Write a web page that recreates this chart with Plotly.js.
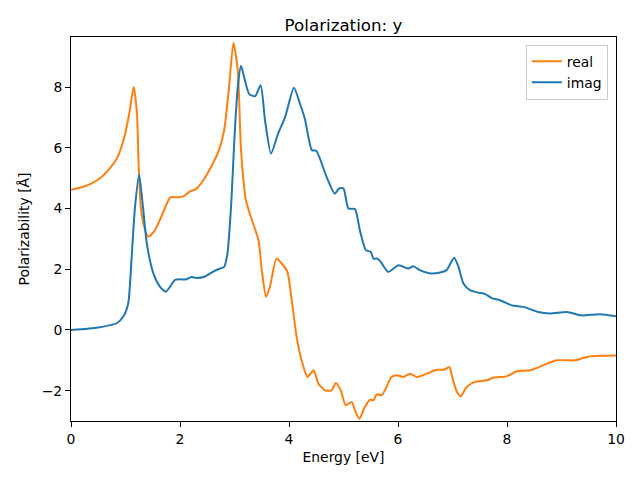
<!DOCTYPE html>
<html>
<head>
<script src="https://cdn.plot.ly/plotly-3.0.1.min.js"></script>
<style>body{margin:0;padding:0;background:#fff}</style>
</head>
<body>
<div id="chart" style="width:640px;height:480px"></div>
<script>
const realEnergy = [0, 0.18, 0.37, 0.55, 0.73, 0.86, 0.98, 1.07, 1.15, 1.21, 1.24, 1.28, 1.35, 1.42, 1.53, 1.63, 1.72, 1.82, 1.96, 2.06, 2.18, 2.29, 2.45, 2.69, 2.81, 2.90, 2.98, 3.06, 3.12, 3.21, 3.30, 3.44, 3.50, 3.58, 3.65, 3.77, 3.87, 3.97, 4.05, 4.14, 4.23, 4.34, 4.45, 4.54, 4.66, 4.78, 4.86, 4.95, 5.04, 5.15, 5.21, 5.29, 5.39, 5.49, 5.55, 5.61, 5.70, 5.76, 5.88, 5.98, 6.10, 6.22, 6.35, 6.53, 6.71, 6.85, 6.94, 7.01, 7.08, 7.15, 7.26, 7.41, 7.63, 7.75, 7.99, 8.18, 8.42, 8.67, 8.91, 9.25, 9.46, 9.71, 10];
const realValues = [4.62, 4.69, 4.82, 5.02, 5.36, 5.71, 6.37, 7.14, 8.0, 7.14, 5.49, 4.06, 3.35, 3.07, 3.26, 3.62, 4.0, 4.37, 4.37, 4.40, 4.56, 4.64, 4.99, 5.81, 6.58, 8.0, 9.46, 8.56, 5.92, 4.27, 3.72, 2.96, 1.97, 1.09, 1.42, 2.35, 2.18, 1.91, 0.98, -0.23, -1.0, -1.55, -1.33, -1.77, -1.99, -1.99, -1.75, -1.99, -2.48, -2.37, -2.65, -2.93, -2.54, -2.30, -2.32, -2.12, -2.15, -1.99, -1.55, -1.49, -1.55, -1.44, -1.55, -1.44, -1.31, -1.31, -1.22, -1.66, -2.04, -2.19, -1.88, -1.71, -1.66, -1.57, -1.53, -1.36, -1.33, -1.16, -1.0, -1.0, -0.89, -0.85, -0.84];

const imagEnergy = [0, 0.3, 0.53, 0.84, 0.96, 1.05, 1.11, 1.17, 1.25, 1.32, 1.39, 1.51, 1.63, 1.74, 1.82, 1.91, 2.12, 2.21, 2.30, 2.45, 2.57, 2.69, 2.81, 2.87, 2.94, 3.0, 3.06, 3.12, 3.19, 3.27, 3.38, 3.48, 3.56, 3.67, 3.80, 3.93, 4.09, 4.20, 4.29, 4.42, 4.50, 4.69, 4.84, 4.92, 5.0, 5.09, 5.21, 5.30, 5.41, 5.50, 5.55, 5.62, 5.68, 5.82, 6.01, 6.19, 6.28, 6.40, 6.59, 6.77, 6.89, 7.03, 7.11, 7.20, 7.32, 7.47, 7.60, 7.72, 7.87, 8.09, 8.30, 8.57, 8.79, 9.10, 9.37, 9.71, 10];
const imagValues = [0.0, 0.04, 0.09, 0.22, 0.44, 0.88, 2.31, 3.95, 5.11, 4.06, 2.86, 1.87, 1.43, 1.26, 1.43, 1.65, 1.67, 1.74, 1.71, 1.75, 1.88, 1.99, 2.08, 2.51, 4.16, 6.36, 8.0, 8.70, 8.23, 7.77, 7.70, 8.06, 6.91, 5.81, 6.47, 7.02, 7.98, 7.46, 6.96, 5.92, 5.90, 5.04, 4.49, 4.66, 4.66, 4.0, 3.98, 3.28, 2.63, 2.57, 2.35, 2.35, 2.25, 1.91, 2.13, 2.02, 2.10, 1.97, 1.86, 1.89, 1.97, 2.38, 2.08, 1.53, 1.31, 1.23, 1.18, 1.05, 0.98, 0.81, 0.76, 0.59, 0.54, 0.59, 0.48, 0.52, 0.45];

const xTicks = [0, 2, 4, 6, 8, 10];
const yTicks = [-2, 0, 2, 4, 6, 8];

const font = {family: 'DejaVu Sans', size: 13.9, color: '#000'};

const traces = [
  {x: realEnergy, y: realValues, name: 'real', mode: 'lines',
   line: {color: '#ff7f0e', width: 2, shape: 'spline', smoothing: 0.6}},
  {x: imagEnergy, y: imagValues, name: 'imag', mode: 'lines',
   line: {color: '#1f77b4', width: 2, shape: 'spline', smoothing: 0.6}}
];

const axisCommon = {
  showline: true, mirror: true, linecolor: '#000', linewidth: 1,
  ticks: 'outside', ticklen: 5, tickwidth: 1, tickcolor: '#000',
  showgrid: false, zeroline: false, tickfont: {family: 'DejaVu Sans', size: 13.9, color: '#000'}
};

const layout = {
  width: 640, height: 480,
  margin: {l: 71, r: 24, t: 37, b: 59},
  paper_bgcolor: '#fff', plot_bgcolor: '#fff',
  font: font,
  title: {text: 'Polarization: y', font: {family: 'DejaVu Sans', size: 16.7, color: '#000'}, x: 0.5, xref: 'paper', y: 1, yref: 'paper', yanchor: 'bottom', pad: {b: 6}},
  xaxis: Object.assign({}, axisCommon, {range: [0, 10], tickvals: xTicks, ticktext: xTicks.map(String),
    title: {text: 'Energy [eV]', font: font, standoff: 6}}),
  yaxis: Object.assign({}, axisCommon, {range: [-3.0, 9.65], tickvals: yTicks, ticktext: yTicks.map(v => v < 0 ? '\u2212' + Math.abs(v) : String(v)),
    title: {text: 'Polarizability [Å]', font: font, standoff: 8}}),
  showlegend: true,
  legend: {x: 0.985, y: 0.98, xanchor: 'right', yanchor: 'top', bgcolor: 'rgba(255,255,255,0.8)',
    bordercolor: '#ccc', borderwidth: 1, font: font, tracegroupgap: 0, itemwidth: 30}
};

Plotly.newPlot('chart', traces, layout, {displayModeBar: false, staticPlot: true});
</script>
</body>
</html>
